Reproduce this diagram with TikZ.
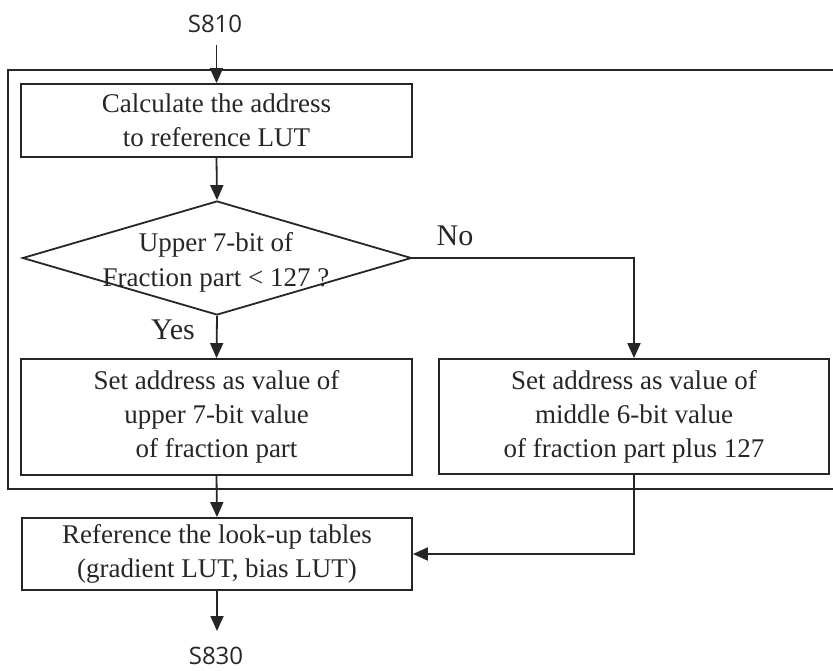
\documentclass[tikz,border=0pt]{standalone}
\usepackage{fontspec}
\setmainfont{Liberation Serif}
\newfontfamily\sansf{Open Sans}
\usetikzlibrary{arrows.meta,shapes.geometric}
\tikzset{
  ln/.style={line width=1.8pt, draw=black!85},
  arr/.style={ln, -{Triangle[length=15pt,width=13pt]}},
  boxnode/.style={ln, rectangle, inner sep=0pt, align=center, text=black!85,
    font=\fontsize{27}{34}\selectfont},
  lbl/.style={text=black!85, font=\fontsize{30}{34}\selectfont, inner sep=0pt},
  steplbl/.style={text=black!85, font=\sansf\fontsize{24}{28}\selectfont, inner sep=0pt, anchor=base},
}
\begin{document}
\begin{tikzpicture}[x=1pt,y=-1pt]
\useasboundingbox (0,0) rectangle (833,670);
% frame
\draw[ln] (833,70) -- (8,70) -- (8,489) -- (833,489);
% nodes
\node[steplbl] (s810) at (215,32) {S810};
\coordinate (in) at (216.5,45);
\node[boxnode, minimum width=391pt, minimum height=73pt] (b1) at (216.5,120.5)
  {Calculate the address\\to reference LUT};
\node[ln, diamond, minimum width=389pt, minimum height=114pt, inner sep=0pt] (dia) at (217,258) {};
\node[align=center, text=black!85, font=\fontsize{27}{35}\selectfont, inner sep=0pt] (diat) at (216,262)
  {Upper 7-bit of\\Fraction part < 127 ?};
\node[lbl] (yes) at (173,330) {Yes};
\node[lbl] (no) at (455,236) {No};
\node[boxnode, minimum width=391pt, minimum height=116pt] (b2) at (216.5,417)
  {Set address as value of\\upper 7-bit value\\of fraction part};
\node[boxnode, minimum width=390pt, minimum height=115pt] (b3) at (634,416.5)
  {Set address as value of\\middle 6-bit value\\of fraction part plus 127};
\node[boxnode, minimum width=390pt, minimum height=72pt] (b4) at (217,554)
  {Reference the look-up tables\\(gradient LUT, bias LUT)};
\coordinate (out) at (217,631);
\node[steplbl] (s830) at (216,664) {S830};
% connectors
\draw[arr] (in) -- (b1.north);
\draw[arr] (b1.south) -- (dia.north);
\draw[arr] (dia.south) -- (b2.north);
\draw[arr] (dia.east) -| (b3.north);
\draw[arr] (b2.south) -- (b4.north);
\draw[arr] (b3.south) |- (b4.east);
\draw[arr] (b4.south) -- (out);
\end{tikzpicture}
\end{document}
